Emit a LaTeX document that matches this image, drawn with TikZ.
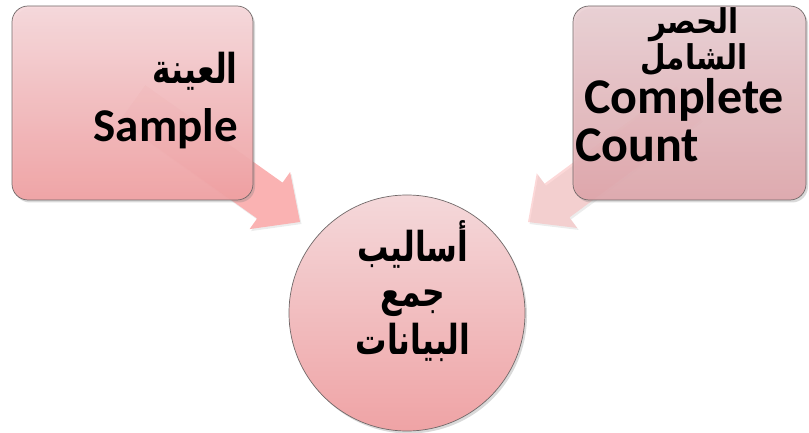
\documentclass[tikz,border=0pt]{standalone}
\usepackage{fontspec}
\usepackage{graphicx}
\setmainfont{Carlito}
\newfontfamily\arabicfont[Script=Arabic]{DejaVu Sans}
\TeXXeTstate=1
\usepackage{tikz}
\usetikzlibrary{positioning, calc, shadows}

\definecolor{lboxtop}{RGB}{246,216,219}
\definecolor{lboxbot}{RGB}{241,160,162}
\definecolor{rboxtop}{RGB}{234,208,212}
\definecolor{rboxbot}{RGB}{224,166,171}
\definecolor{hubtop}{RGB}{244,216,218}
\definecolor{hubbot}{RGB}{239,163,165}
\definecolor{rim}{RGB}{112,104,104}
\definecolor{arrowpink}{RGB}{250,178,178}

% Arabic words: [vertical stretch]
\newcommand{\ar}[2][1.25]{\scalebox{0.95}[#1]{\arabicfont\bfseries\beginR #2\endR}}
% block arrow: start, tip, shaft half width, head half width, head length, style
\newcommand{\blockarrow}[6]{%
  \fill[#6] ($(#1)!#3!90:(#2)$)
    -- ($($(#2)!#5!(#1)$)!#3!90:(#2)$)
    -- ($($(#2)!#5!(#1)$)!#4!90:(#2)$)
    -- (#2)
    -- ($($(#2)!#5!(#1)$)!#4!-90:(#2)$)
    -- ($($(#2)!#5!(#1)$)!#3!-90:(#2)$)
    -- ($(#1)!#3!-90:(#2)$) -- cycle;}

\begin{document}
\begin{tikzpicture}[
    x=1pt, y=-1pt,
    box/.style={rectangle, rounded corners=16pt, draw=rim, line width=0.7pt,
      minimum width=241pt, minimum height=194pt, inner sep=0pt,
      drop shadow={shadow xshift=2pt, shadow yshift=-2.5pt, opacity=0.3}},
    lbox/.style={box, top color=lboxtop, bottom color=lboxbot, fill opacity=0.93},
    rbox/.style={box, minimum width=233pt, top color=rboxtop, bottom color=rboxbot, fill opacity=0.9},
    hub/.style={circle, draw=rim, line width=0.7pt, minimum size=236pt, inner sep=0pt,
      top color=hubtop, bottom color=hubbot,
      drop shadow={shadow xshift=2pt, shadow yshift=-2.5pt, opacity=0.3}},
    txt/.style={inner sep=0pt, text=black, font=\fontsize{47}{50}\selectfont\bfseries},
    artxt/.style={inner sep=0pt, text=black, font=\fontsize{33}{36}\selectfont},
    smallar/.style={artxt, font=\fontsize{31}{34}\selectfont},
    wide/.style={font=\fontsize{50}{54}\selectfont\bfseries},
    arrowfill/.style={fill=arrowpink, drop shadow={shadow xshift=1.5pt, shadow yshift=-2pt, opacity=0.15}}
]
    \useasboundingbox (0,0) rectangle (809,433);

    % Arrows (behind the boxes)
    \coordinate (samplestart) at (132.5,103);
    \coordinate (sampletip) at (300,222);
    \coordinate (countstart) at (689,103);
    \coordinate (counttip) at (528,222);
    \blockarrow{samplestart}{sampletip}{22pt}{35pt}{37pt}{arrowfill}
    \blockarrow{countstart}{counttip}{21pt}{34pt}{36pt}{arrowfill, opacity=0.5}

    % Shapes
    \node[lbox] (sample) at (132.5,103) {};
    \node[rbox] (count) at (689.5,103) {};
    \node[hub] (methods) at (407,313) {};

    % Left box text
    \node[artxt, anchor=base east] (samplear) at (238,84) {\ar{العينة}};
    \node[txt, anchor=base east] (sampleen) at (238,142) {Sample};

    % Right box text
    \node[smallar, anchor=base] (countar1) at (694,34) {\ar[1.1]{الحصر}};
    \node[smallar, anchor=base] (countar2) at (694,70) {\ar[1.1]{الشامل}};
    \node[txt, wide, anchor=base] (counten1) at (684,114) {Complete};
    \node[txt, wide, anchor=base west] (counten2) at (575,161) {Count};

    % Circle text
    \node[artxt, anchor=base] (methods1) at (413,261) {\ar{أساليب}};
    \node[artxt, anchor=base] (methods2) at (413,306) {\ar{جمع}};
    \node[artxt, anchor=base] (methods3) at (413,354) {\ar{البيانات}};

\end{tikzpicture}
\end{document}
